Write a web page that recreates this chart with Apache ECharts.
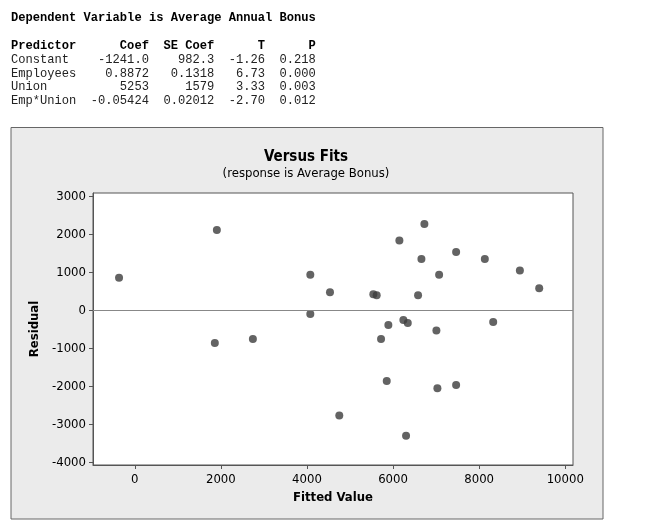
<!DOCTYPE html>
<html>
<head>
<meta charset="utf-8">
<title>Versus Fits</title>
<script src="https://cdn.jsdelivr.net/npm/echarts@6/dist/echarts.min.js"></script>
<style>
    html, body { margin: 0; padding: 0; background: #fff; }
    #chart { width: 650px; height: 530px; }
</style>
</head>
<body>
<div id="chart"></div>
<script>
/*data*/
const fittedValues = [-365, 1907, 1860, 2744, 4078, 4078, 4535, 4751, 5542, 5620,
    6581, 6147, 6728, 6659, 7465, 7070, 8132, 8946, 9395, 5891,
    6240, 6342, 5721, 7007, 8326, 5853, 7030, 7465, 6302];
const residuals = [859, 2114, -857, -751, 939, -96, 477, -2767, 424, 398,
    398, 1841, 2273, 1353, 1538, 939, 1353, 1053, 584, -387,
    -255, -334, -751, -530, -308, -1857, -2050, -1963, -3297];
const xTicks = [0, 2000, 4000, 6000, 8000, 10000];
const yTicks = [-4000, -3000, -2000, -1000, 0, 1000, 2000, 3000];
const tableTitle = 'Dependent Variable is Average Annual Bonus';
const tableHeader = 'Predictor      Coef  SE Coef      T      P';
const tableRows = [
    'Constant    -1241.0    982.3  -1.26  0.218',
    'Employees    0.8872   0.1318   6.73  0.000',
    'Union          5253     1579   3.33  0.003',
    'Emp*Union  -0.05424  0.02012  -2.70  0.012'
];

(function () {
    const chart = echarts.init(document.getElementById('chart'), null, {renderer: 'canvas'});
    const sans = "'DejaVu Sans Condensed', 'DejaVu Sans', sans-serif";
    const mono = "'Liberation Mono', 'DejaVu Sans Mono', monospace";
    const frameColor = '#555';

    /*regression table as text*/
    const tableText = [
        {type: 'text', left: 11, top: 12, style: {text: tableTitle, font: 'bold 12.1px ' + mono, fill: '#000'}},
        {type: 'text', left: 11, top: 40, style: {text: tableHeader, font: 'bold 12.1px ' + mono, fill: '#000'}}
    ];
    tableRows.forEach(function (row, i) {
        tableText.push({
            type: 'text', left: 11, top: 54 + i * 13.6,
            style: {text: row, font: '12.1px ' + mono, fill: '#222'}
        });
    });

    const option = {
        animation: false,
        backgroundColor: '#fff',
        title: {
            text: 'Versus Fits',
            subtext: '(response is Average Bonus)',
            left: 306,
            top: 150,
            textAlign: 'center',
            itemGap: 2,
            padding: 0,
            textStyle: {fontFamily: sans, fontSize: 15, fontWeight: 'bold', color: '#000'},
            subtextStyle: {fontFamily: sans, fontSize: 13, color: '#000'}
        },
        graphic: {
            elements: [
                {
                    type: 'rect', z: -10, silent: true,
                    shape: {x: 11, y: 127.5, width: 592, height: 391.5},
                    style: {fill: '#ebebeb', stroke: '#666', lineWidth: 1}
                }
            ].concat(tableText)
        },
        grid: {
            left: 93, right: 77, top: 193, bottom: 65,
            show: true,
            backgroundColor: '#fff',
            borderColor: frameColor,
            borderWidth: 1,
            outerBoundsMode: 'none'
        },
        xAxis: {
            type: 'value',
            min: -970,
            max: 10180,
            name: 'Fitted Value',
            nameLocation: 'middle',
            nameGap: 25,
            nameTextStyle: {fontFamily: sans, fontSize: 13, fontWeight: 'bold', color: '#000'},
            axisLine: {show: true, onZero: false, lineStyle: {color: frameColor, width: 1}},
            axisTick: {show: true, length: 4, customValues: xTicks, lineStyle: {color: frameColor}},
            axisLabel: {
                customValues: xTicks, margin: 8,
                fontFamily: sans, fontSize: 13, color: '#000',
                formatter: function (v) { return String(v); }
            },
            splitLine: {show: false}
        },
        yAxis: {
            type: 'value',
            min: -4070,
            max: 3090,
            name: 'Residual',
            nameLocation: 'middle',
            nameRotate: 90,
            nameGap: 47,
            nameTextStyle: {fontFamily: sans, fontSize: 13, fontWeight: 'bold', color: '#000'},
            axisLine: {show: true, onZero: false, lineStyle: {color: frameColor, width: 1}},
            axisTick: {show: true, length: 4, customValues: yTicks, lineStyle: {color: frameColor}},
            axisLabel: {
                customValues: yTicks, margin: 7,
                fontFamily: sans, fontSize: 13, color: '#000',
                formatter: function (v) { return String(v); }
            },
            splitLine: {show: false}
        },
        series: [{
            type: 'scatter',
            data: fittedValues.map(function (x, i) { return [x, residuals[i]]; }),
            symbol: 'circle',
            symbolSize: 8,
            itemStyle: {color: '#3c3c3c'},
            markLine: {
                silent: true,
                symbol: 'none',
                label: {show: false},
                lineStyle: {color: '#888', type: 'solid', width: 1},
                data: [{yAxis: 0}]
            }
        }]
    };

    chart.setOption(option);
})();
</script>
</body>
</html>
